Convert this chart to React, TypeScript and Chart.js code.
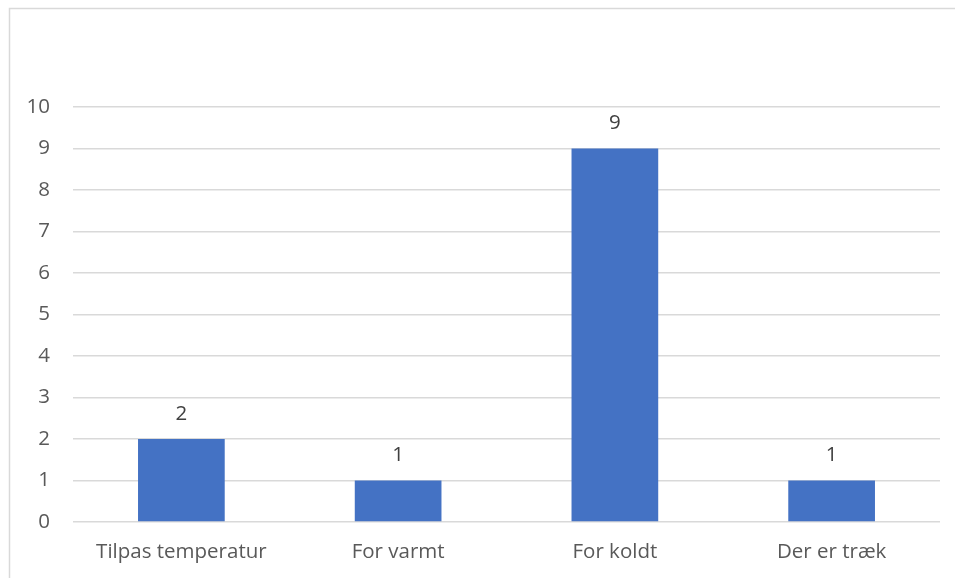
import React, { useEffect, useRef } from "react";
import { Chart, registerables } from "chart.js";

Chart.register(...registerables);

const categories = ["Tilpas temperatur", "For varmt", "For koldt", "Der er træk"];
const counts = [2, 1, 9, 1];
const yMin = 0;
const yMax = 10;

const FONT = "'Open Sans', 'Noto Sans', sans-serif";
const FONT_SIZE = 20.5;

// Light frame around the chart area (runs past the right and bottom edges)
const framePlugin = {
  id: "frame",
  beforeDraw(chart: any) {
    const { ctx } = chart;
    ctx.save();
    ctx.strokeStyle = "#d9d9d9";
    ctx.lineWidth = 1.5;
    ctx.beginPath();
    ctx.moveTo(9.5, chart.height + 5);
    ctx.lineTo(9.5, 8.5);
    ctx.lineTo(chart.width + 5, 8.5);
    ctx.stroke();
    ctx.restore();
  },
};

// Value labels above each bar
const valueLabels = {
  id: "valueLabels",
  afterDatasetsDraw(chart: any) {
    const { ctx } = chart;
    const meta = chart.getDatasetMeta(0);
    ctx.save();
    ctx.fillStyle = "#404040";
    ctx.font = `${FONT_SIZE}px ${FONT}`;
    ctx.textAlign = "center";
    ctx.textBaseline = "middle";
    meta.data.forEach((bar: any, i: number) => {
      ctx.fillText(String(counts[i]), bar.x, bar.y - 25);
    });
    ctx.restore();
  },
};

export default function App() {
  const ref = useRef<HTMLCanvasElement>(null);

  useEffect(() => {
    if (!ref.current) return;
    const chart = new Chart(ref.current, {
      type: "bar",
      data: {
        labels: categories,
        datasets: [
          {
            data: counts,
            backgroundColor: "#4472C4",
            categoryPercentage: 0.8,
            barPercentage: 0.5,
          },
        ],
      },
      options: {
        animation: false,
        responsive: false,
        maintainAspectRatio: false,
        layout: { padding: { top: 107, right: 15, left: 0, bottom: 0 } },
        plugins: {
          legend: { display: false },
          tooltip: { enabled: false },
        },
        scales: {
          x: {
            grid: { display: false, drawTicks: false },
            border: { display: false },
            ticks: {
              color: "#595959",
              font: { family: FONT, size: FONT_SIZE },
              padding: 18,
              maxRotation: 0,
            },
            afterFit(scale: any) {
              scale.height = 56;
            },
          },
          y: {
            min: yMin,
            max: yMax,
            grid: { color: "#d9d9d9", lineWidth: 1.5, drawTicks: false },
            border: { display: false },
            ticks: {
              stepSize: 1,
              color: "#595959",
              font: { family: FONT, size: FONT_SIZE },
              padding: 23,
            },
            afterFit(scale: any) {
              scale.width = 73;
            },
          },
        },
      },
      plugins: [framePlugin, valueLabels],
    });
    return () => chart.destroy();
  }, []);

  return (
    <div style={{ position: "fixed", left: 0, top: 0, width: 955, height: 578, background: "#fff" }}>
      <canvas ref={ref} width={955} height={578} style={{ display: "block" }} />
    </div>
  );
}
